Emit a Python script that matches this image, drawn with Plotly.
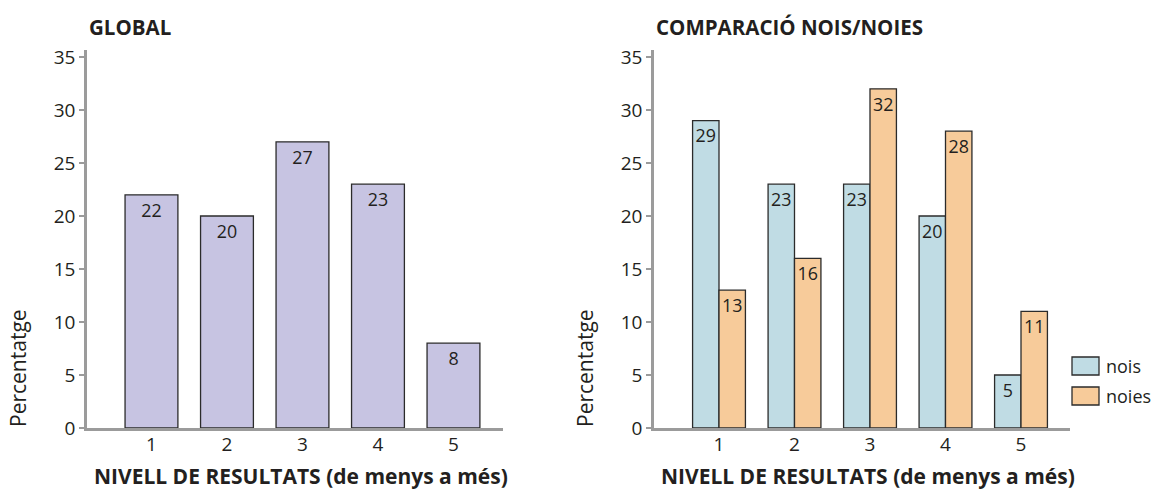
import plotly.graph_objects as go

# Result levels (1 = lowest, 5 = highest) and percentages
levels = [1, 2, 3, 4, 5]
global_pct = [22, 20, 27, 23, 8]
boys_pct = [29, 23, 23, 20, 5]
girls_pct = [13, 16, 32, 28, 11]
series_names = ["nois", "noies"]
y_ticks = [0, 5, 10, 15, 20, 25, 30, 35]

W, H = 1155, 492
FONT = "Open Sans"
TXT = "#231f20"
AXIS = "#9b9b9b"
C_GLOBAL = "#c7c4e2"
C_BOYS = "#c0dce4"
C_GIRLS = "#f7cb9a"
EDGE = "#2b2b2b"


def px(x):
    return x / W


def py(y):
    return 1 - y / H


fig = go.Figure()

bar_common = dict(
    textposition="inside",
    insidetextanchor="end",
    textfont=dict(family=FONT, size=19, color=TXT),
    marker_line=dict(color=EDGE, width=1.3),
    cliponaxis=False,
    showlegend=False,
    hoverinfo="skip",
)

fig.add_trace(go.Bar(x=levels, y=global_pct, text=[str(v) for v in global_pct],
                     marker_color=C_GLOBAL, xaxis="x", yaxis="y", **bar_common))
fig.add_trace(go.Bar(x=levels, y=boys_pct, text=[str(v) for v in boys_pct], name=series_names[0],
                     marker_color=C_BOYS, xaxis="x2", yaxis="y2", offsetgroup="a", **bar_common))
fig.add_trace(go.Bar(x=levels, y=girls_pct, text=[str(v) for v in girls_pct], name=series_names[1],
                     marker_color=C_GIRLS, xaxis="x2", yaxis="y2", offsetgroup="b", **bar_common))

x_axis = dict(
    range=[0.146, 5.656],
    tickvals=levels,
    showline=True, linecolor=AXIS, linewidth=2.5,
    ticks="", ticklabelstandoff=-3,
    tickfont=dict(family=FONT, size=19, color=TXT),
    showgrid=False, zeroline=False, fixedrange=True, automargin=False,
)
y_axis = dict(
    range=[0, 35.66],
    tickvals=y_ticks,
    showline=True, linecolor=AXIS, linewidth=2.5,
    ticks="outside", ticklen=5, tickcolor=AXIS, tickwidth=2,
    tickfont=dict(family=FONT, size=19, color=TXT),
    showgrid=False, zeroline=False, fixedrange=True, automargin=False,
    domain=[py(428), py(50)],
)

fig.update_layout(
    width=W, height=H,
    margin=dict(l=0, r=0, t=0, b=0, pad=0, autoexpand=False),
    paper_bgcolor="white", plot_bgcolor="white",
    barmode="group", bargap=0.3, bargroupgap=0,
    showlegend=False,
    uniformtext=dict(minsize=10, mode="show"),
    xaxis=dict(x_axis, domain=[px(87), px(503)], anchor="y"),
    yaxis=dict(y_axis, anchor="x"),
    xaxis2=dict(x_axis, domain=[px(654), px(1070)], anchor="y2", range=[0.139, 5.649]),
    yaxis2=dict(y_axis, anchor="x2"),
)

ann = []
# Panel titles
for x0, title in [(88, "GLOBAL"), (655, "COMPARACIÓ NOIS/NOIES")]:
    ann.append(dict(x=px(x0 - 1), y=py(27), xref="paper", yref="paper", text=f"<b>{title}</b>",
                    showarrow=False, xanchor="left", yanchor="middle",
                    font=dict(family=FONT, size=20.5, color=TXT)))
# Axis titles
for xc, yt in [((88 + 513) / 2, 18), ((655 + 1080) / 2, 585)]:
    ann.append(dict(x=px(xc), y=0, xref="paper", yref="paper",
                    text="<b>NIVELL DE RESULTATS (de menys a més)</b>",
                    showarrow=False, xanchor="center", yanchor="bottom",
                    font=dict(family=FONT, size=21, color=TXT)))
    ann.append(dict(x=px(yt), y=py(429), xref="paper", yref="paper", text="Percentatge",
                    textangle=-90, showarrow=False, xanchor="center", yanchor="bottom",
                    font=dict(family=FONT, size=21, color=TXT)))

# Legend swatches and labels
shapes = []
for (top, color), name in zip([(357, C_BOYS), (387, C_GIRLS)], series_names):
    shapes.append(dict(type="rect", xref="paper", yref="paper",
                       x0=px(1072), x1=px(1099), y0=py(top + 18), y1=py(top),
                       fillcolor=color, line=dict(color=EDGE, width=1.3)))
    ann.append(dict(x=px(1104), y=py(top + 9), xref="paper", yref="paper", text=name,
                    showarrow=False, xanchor="left", yanchor="middle",
                    font=dict(family=FONT, size=18, color=TXT)))

fig.update_layout(annotations=ann, shapes=shapes)

fig.write_html("out.html")
